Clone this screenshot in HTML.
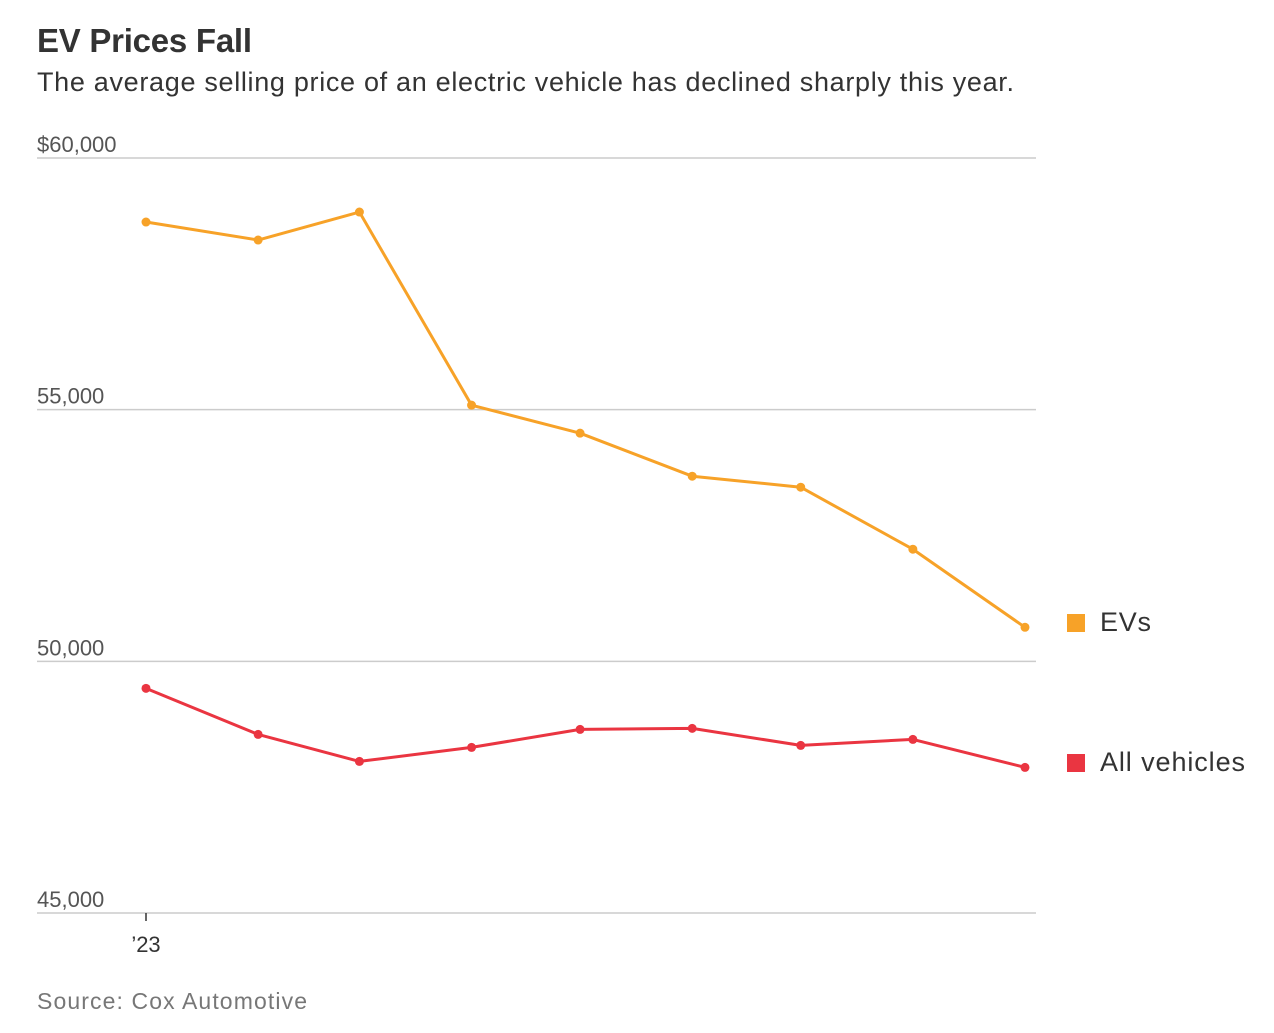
<!DOCTYPE html>
<html><head><meta charset="utf-8"><style>
body{margin:0;background:#fff;width:1274px;height:1028px;overflow:hidden;font-family:"Liberation Sans",sans-serif;}
</style></head><body>
<svg id="chart" width="1274" height="1028" xmlns="http://www.w3.org/2000/svg">
<text x="37" y="52" font-size="33" font-weight="bold" fill="#333" font-family="Liberation Sans, sans-serif" textLength="215">EV Prices Fall</text>
<text x="37" y="91" font-size="27" fill="#333" font-family="Liberation Sans, sans-serif" textLength="977">The average selling price of an electric vehicle has declined sharply this year.</text>
<g id="grid"></g>
<g id="xaxis"></g>
<g id="series"></g>
<rect x="1067" y="614" width="18" height="18" fill="#f7a228"/>
<text x="1100" y="631" font-size="27" fill="#333" textLength="51">EVs</text>
<rect x="1067" y="754" width="18" height="18" fill="#ea3541"/>
<text x="1100" y="771" font-size="27" fill="#333" textLength="145">All vehicles</text>
<text x="37" y="1009" font-size="23" fill="#777" textLength="270">Source: Cox Automotive</text>
</svg>
<script>
const categories = ['2023-01-01','2023-02-01','2023-03-01','2023-04-01','2023-05-01','2023-06-01','2023-07-01','2023-08-01','2023-09-01'];
const evValues = [58728,58370,58926,55089,54533,53678,53459,52227,50676];
const allValues = [49463,48548,48012,48290,48648,48668,48330,48449,47893];
const yTicks = [60000,55000,50000,45000];
const yTickLabels = ['$60,000','55,000','50,000','45,000'];
const xTickLabels = ['’23'];

const NS='http://www.w3.org/2000/svg';
const t0=Date.parse(categories[0]), t1=Date.parse(categories[categories.length-1]);
function y(v){return 158+(60000-v)*(913-158)/15000;}
function x(i){return 146+(Date.parse(categories[i])-t0)/(t1-t0)*(1025-146);}
function mk(tag,attrs,parent){const e=document.createElementNS(NS,tag);for(const k in attrs)e.setAttribute(k,attrs[k]);parent.appendChild(e);return e;}
const grid=document.getElementById('grid');
yTicks.forEach((t,i)=>{
  const l=mk('line',{x1:37,x2:1036,y1:y(t),y2:y(t),stroke:'#ccc','stroke-width':1.5},grid);
  
  
  const tx=mk('text',{x:37,y:y(t)-6,'font-size':22,fill:'#555'},grid);
  tx.textContent=yTickLabels[i];
  
  
});
const xa=document.getElementById('xaxis');
xTickLabels.forEach((lab,i)=>{
  const tk=mk('line',{x1:x(i),x2:x(i),y1:913,y2:921,stroke:'#333','stroke-width':1.5},xa);
  
  
  const t=mk('text',{x:x(i),y:952,'font-size':22,fill:'#333','text-anchor':'middle'},xa);
  t.textContent=lab;
  
  
});
const sg=document.getElementById('series');
[[evValues,'#f7a228','evs'],[allValues,'#ea3541','all-vehicles']].forEach(([vals,c,n])=>{
  const p=mk('polyline',{points:vals.map((v,i)=>x(i)+','+y(v)).join(' '),fill:'none',stroke:c,'stroke-width':3,'stroke-linejoin':'round'},sg);
  
  
  vals.forEach((v,i)=>{
    const d=mk('circle',{cx:x(i),cy:y(v),r:4.5,fill:c},sg);
    
    
  });
});
</script>
</body></html>
